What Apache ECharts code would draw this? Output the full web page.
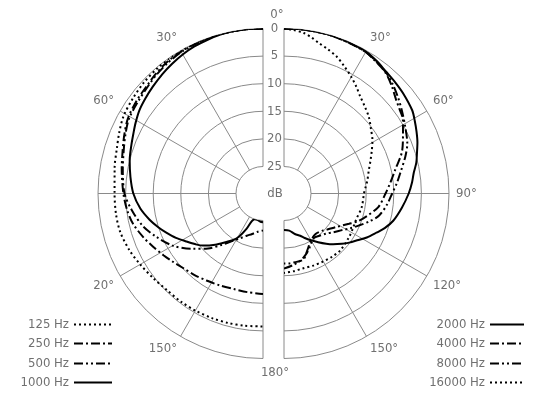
<!DOCTYPE html>
<html><head><meta charset="utf-8">
<script src="https://cdn.jsdelivr.net/npm/echarts@6/dist/echarts.min.js"></script>
<style>html,body{margin:0;padding:0;background:#fff}#c{width:550px;height:400px}</style>
</head><body><div id="c"></div>
<script>
// ---- data (angle in degrees from front, attenuation in dB) ----
const dbTicks = [0, 5, 10, 15, 20, 25];
const leftAngleLabels = {30: '30°', 60: '60°', 120: '20°', 150: '150°'};
const rightAngleLabels = {30: '30°', 60: '60°', 90: '90°', 120: '120°', 150: '150°'};

const deg125 = [0, 5, 10, 15, 20, 25, 30, 35, 40, 47, 54, 61, 67, 73, 80, 90, 98, 105, 113, 120, 128, 135, 143, 150, 158, 165, 172, 180];
const att125 = [0, 0, 0, 0, 0, 0, 0.05, 0.1, 0.2, 0.4, 0.7, 1.0, 1.6, 2.2, 2.6, 3.0, 3.0, 3.1, 3.6, 4.2, 4.8, 5.2, 5.3, 5.4, 5.5, 5.6, 5.7, 5.8];

const deg250 = [0, 5, 10, 15, 20, 25, 30, 36, 42, 47, 54, 61, 67, 73, 80, 90, 97, 103, 110, 116, 122, 127, 133, 140, 147, 155, 163, 171, 180];
const att250 = [0, 0, 0, 0, 0.05, 0.1, 0.2, 0.4, 0.8, 1.2, 1.5, 1.9, 2.6, 3.3, 3.9, 4.6, 5.1, 5.7, 6.8, 7.8, 8.7, 9.4, 10.1, 10.6, 11.1, 11.5, 11.8, 11.8, 11.7];

const deg500 = [0, 5, 10, 15, 20, 25, 30, 36, 42, 47, 54, 61, 67, 73, 80, 90, 97, 105, 112, 120, 128, 135, 141, 147, 153, 159, 165, 172, 180];
const att500 = [0, 0, 0, 0, 0.1, 0.2, 0.3, 0.6, 1.0, 1.4, 1.8, 2.1, 2.8, 3.5, 4.1, 4.8, 5.9, 7.3, 9.0, 11.0, 13.6, 15.8, 17.9, 19.6, 20.8, 21.7, 22.3, 22.9, 23.2];

const deg1000 = [0, 5, 10, 15, 20, 25, 30, 35, 40, 46, 51, 56, 61, 65, 70, 76, 83, 90, 97, 103, 108, 112, 117, 122, 127, 131, 137, 143, 147, 151, 155, 158, 162, 168, 174, 180];
const att1000 = [0, 0, 0, 0.1, 0.3, 0.5, 0.8, 1.2, 1.6, 2.1, 2.5, 2.9, 3.5, 4.0, 4.5, 5.0, 5.7, 6.4, 7.5, 8.8, 10.0, 11.0, 12.2, 13.5, 14.6, 15.5, 17.2, 18.9, 19.8, 21.0, 22.8, 24.5, 25.0, 25.0, 24.8, 24.7];

const deg2000 = [0, 5, 10, 15, 20, 25, 30, 35, 40, 45, 50, 57, 61, 65, 69, 73, 77, 81, 85, 90, 97, 104, 109, 113, 118, 122, 127, 131, 136, 140, 145, 150, 155, 159, 165, 172, 180];
const att2000 = [0, 0, 0, 0, 0, 0.1, 0.2, 0.6, 1.1, 1.4, 1.7, 2.2, 2.8, 3.4, 4.0, 4.7, 5.3, 6.1, 6.6, 7.3, 8.4, 9.5, 10.6, 11.7, 12.9, 14.0, 15.1, 16.0, 17.1, 18.0, 19.1, 20.1, 21.0, 21.7, 22.3, 23.1, 23.3];

const deg4000 = [0, 5, 10, 15, 20, 25, 30, 35, 40, 45, 50, 54, 58, 63, 70, 78, 84, 90, 98, 106, 111, 115, 123, 129, 134, 142, 150, 158, 163, 167, 171, 176, 180];
const att4000 = [0, 0, 0, 0, 0.1, 0.2, 0.3, 0.8, 1.3, 2.3, 3.4, 4.0, 4.5, 5.7, 7.1, 9.3, 10.5, 11.5, 12.6, 14.5, 15.7, 16.9, 18.7, 19.6, 20.2, 20.6, 20.1, 18.7, 17.5, 17.3, 17.3, 17.2, 17.2];

const deg8000 = [0, 5, 10, 15, 20, 25, 30, 35, 40, 45, 50, 55, 61, 68, 73, 80, 85, 90, 96, 103, 108, 113, 118, 122, 128, 134, 140, 145, 150, 155, 160, 166, 173, 180];
const att8000 = [0, 0, 0, 0, 0.1, 0.2, 0.3, 0.7, 1.2, 2.0, 2.9, 3.8, 4.8, 5.8, 6.9, 8.5, 9.4, 10.3, 11.1, 12.2, 13.6, 15.1, 16.4, 17.4, 18.5, 19.4, 19.9, 20.2, 19.8, 19.0, 18.2, 17.4, 16.8, 16.3];

const deg16000 = [0, 3, 7, 10, 13, 17, 21, 25, 30, 34, 38, 43, 48, 53, 59, 64, 69, 75, 81, 86, 90, 100, 110, 117, 124, 135, 143, 151, 158, 166, 173, 180];
const att16000 = [0, 0.2, 0.6, 1.2, 1.9, 2.6, 3.3, 4.3, 5.5, 6.5, 7.5, 8.4, 9.2, 10.2, 11.2, 12.2, 13.1, 14.0, 14.6, 15.1, 15.4, 15.6, 16.0, 15.9, 15.7, 15.4, 15.5, 15.7, 15.8, 15.9, 15.7, 15.5];

// ---- styling ----
const FONT = 'DejaVu Sans Condensed, DejaVu Sans, sans-serif';
const FS = 13;
const GRID = '#8a8a8a';
const TXT = '#707070';
const DOT = [2, 3];
const DASHDOT = [9, 3, 2, 3];
const DASHDOTDOT = [9, 3, 2, 3, 2, 3];

function pts(deg, att) { return deg.map((d, i) => [att[i], d]); }

function lineSeries(name, polarIndex, deg, att, dash) {
  return {
    name, type: 'line', coordinateSystem: 'polar', polarIndex,
    data: pts(deg, att), smooth: 0.3, symbol: 'none', silent: true,
    lineStyle: { color: '#000', width: 2, type: dash || 'solid' },
    itemStyle: { color: '#000' }
  };
}

function radiusAxis(polarIndex, showLabels) {
  return {
    polarIndex, type: 'value', min: 0, max: 25, interval: 5, inverse: true,
    axisLine: { show: false }, axisTick: { show: false },
    axisLabel: { show: showLabels, color: TXT, fontFamily: FONT, fontSize: FS, margin: 9.5, align: 'center' },
    splitLine: { show: true, lineStyle: { color: GRID, width: 1 } }
  };
}

function angleAxis(polarIndex, startAngle, endAngle, clockwise, labels) {
  return {
    polarIndex, type: 'value', min: 0, max: 180, interval: 30,
    startAngle, endAngle, clockwise,
    axisLine: { show: false }, axisTick: { show: false },
    axisLabel: { show: true, color: TXT, fontFamily: FONT, fontSize: FS, margin: 7,
      align: 'center', verticalAlign: 'middle',
      formatter: v => labels[v] || '' },
    splitLine: { show: true, lineStyle: { color: GRID, width: 1 } }
  };
}

function legendItem(name, top, side, dist, w) {
  const l = {
    data: [name], top, orient: 'horizontal', align: 'right', padding: 0,
    itemWidth: w, itemHeight: 10, selectedMode: false,
    itemStyle: { opacity: 0 },
    textStyle: { color: TXT, fontFamily: FONT, fontSize: FS }
  };
  l[side] = dist;
  return l;
}

const chart = echarts.init(document.getElementById('c'), null, { renderer: 'canvas' });
chart.setOption({
  animation: false,
  backgroundColor: '#fff',
  polar: [
    { center: [263, 193.5], radius: [27, 165] },
    { center: [284, 193.5], radius: [27, 165] }
  ],
  angleAxis: [
    angleAxis(0, 90, 270, false, leftAngleLabels),
    angleAxis(1, 90, -90, true, rightAngleLabels)
  ],
  radiusAxis: [radiusAxis(0, false), radiusAxis(1, true)],
  legend: [
    legendItem('125 Hz', 318, 'right', 437, 38),
    legendItem('250 Hz', 337, 'right', 437, 38),
    legendItem('500 Hz', 357, 'right', 437, 38),
    legendItem('1000 Hz', 376, 'right', 437, 38),
    legendItem('2000 Hz', 318, 'right', 25, 34),
    legendItem('4000 Hz', 337, 'right', 25, 34),
    legendItem('8000 Hz', 357, 'right', 25, 34),
    legendItem('16000 Hz', 376, 'right', 25, 34)
  ],
  graphic: [
    { type: 'text', x: 277, y: 15, style: { text: '0°', fill: TXT, font: FS + 'px ' + FONT, align: 'center', verticalAlign: 'middle' } },
    { type: 'text', x: 275, y: 194, style: { text: 'dB', fill: TXT, font: FS + 'px ' + FONT, align: 'center', verticalAlign: 'middle' } },
    { type: 'text', x: 275, y: 373, style: { text: '180°', fill: TXT, font: FS + 'px ' + FONT, align: 'center', verticalAlign: 'middle' } }
  ],
  series: [
    lineSeries('125 Hz', 0, deg125, att125, DOT),
    lineSeries('250 Hz', 0, deg250, att250, DASHDOT),
    lineSeries('500 Hz', 0, deg500, att500, DASHDOTDOT),
    lineSeries('1000 Hz', 0, deg1000, att1000, 'solid'),
    lineSeries('2000 Hz', 1, deg2000, att2000, 'solid'),
    lineSeries('4000 Hz', 1, deg4000, att4000, DASHDOT),
    lineSeries('8000 Hz', 1, deg8000, att8000, DASHDOTDOT),
    lineSeries('16000 Hz', 1, deg16000, att16000, DOT)
  ]
});
</script></body></html>
